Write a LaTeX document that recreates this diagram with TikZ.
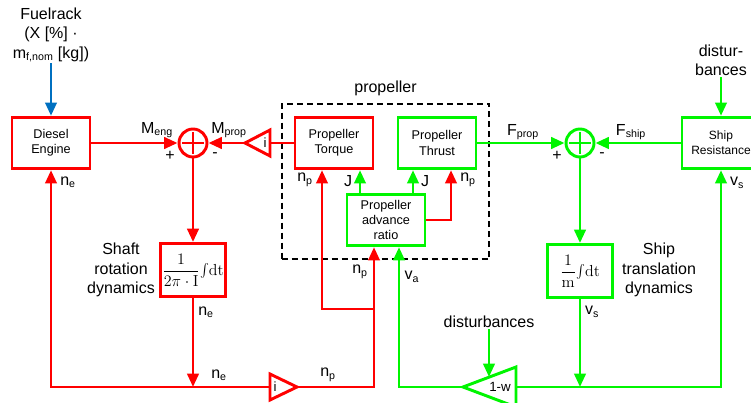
\documentclass[tikz,border=0pt]{standalone}
\usepackage[no-math]{fontspec}
\setmainfont{Liberation Sans}
\usetikzlibrary{arrows.meta}
\usetikzlibrary{positioning}
\usetikzlibrary{fit}

\definecolor{sigred}{RGB}{255,0,0}
\definecolor{siggreen}{RGB}{0,245,0}
\definecolor{sigblue}{RGB}{0,112,192}

\begin{document}
\begin{tikzpicture}[x=0.75pt, y=-0.75pt,
            line width=2.2pt,
            font=\fontsize{12}{14.5}\selectfont,
            >={Triangle[length=10pt,width=8.5pt]},
            block/.style = {draw,fill=white,align=center,inner sep=1pt,
                minimum width=58.5pt,minimum height=38.5pt,
                font=\fontsize{9.5}{11.3}\selectfont},
            intblock/.style = {block,minimum width=48.75pt,minimum height=39.75pt,
                font=\fontsize{11.5}{13}\selectfont},
            sumnode/.style = {draw,circle,minimum size=21pt,inner sep=0pt},
            lbl/.style = {inner sep=0pt,align=center},
            gainlbl/.style = {inner sep=0pt,font=\fontsize{10}{12}\selectfont}]
            \useasboundingbox (0,0) rectangle (751,403);
            \node[block, draw=sigred] (engine) at (51,143) {Diesel\\Engine};
            \node[sumnode, draw=sigred] (sumM) at (193,143) {};
            \node[block, draw=sigred] (torque) at (334,143) {Propeller\\Torque};
            \node[block, draw=siggreen] (thrust) at (437,143) {Propeller\\Thrust};
            \node[block, draw=siggreen] (ratio) at (386,220) {Propeller\\advance\\ratio};
            \node[sumnode, draw=siggreen] (sumF) at (580,143) {};
            \node[block, draw=siggreen, font=\fontsize{9}{11.3}\selectfont] (resist) at (721,143) {Ship\\Resistance};
            \node[intblock, draw=sigred] (shaftint) at (193,270)
                {$\displaystyle\frac{1}{2\pi\cdot\mathrm{I}}{\textstyle\int}\mathrm{dt}$};
            \node[intblock, draw=siggreen] (shipint) at (580,271)
                {$\displaystyle\frac{1}{\mathrm{m}}{\textstyle\int}\mathrm{dt}$};
            \node[draw=black, line width=1.5pt, dash pattern=on 4.5pt off 3pt,
                inner sep=9pt, fit=(torque)(thrust)(ratio)] (prop) {};
            \node[above=1pt] (proplbl) at (prop.north) {propeller};
            \draw[sigred] (sumM.center) ++(0,-11) -- ++(0,22)
                (sumM.center) ++(-11,0) -- ++(22,0);
            \draw[siggreen] (sumF.center) ++(0,-11) -- ++(0,22)
                (sumF.center) ++(-11,0) -- ++(22,0);
            % gains
            \coordinate (gearAtip) at (245,143);
            \coordinate (gearAbase) at (270,143);
            \draw[sigred] (gearAtip) -- (270,130) -- (270,156) -- cycle;
            \node[gainlbl] (gearAlbl) at (265,143) {i};
            \coordinate (gearBbase) at (270,387);
            \coordinate (gearBtip) at (297,387);
            \draw[sigred] (gearBtip) -- (270,374) -- (270,400) -- cycle;
            \node[gainlbl] (gearBlbl) at (275,387) {i};
            \coordinate (gearWtip) at (463,387);
            \coordinate (gearWbase) at (516,387);
            \coordinate (gearWedge) at (489,377);
            \draw[siggreen] (gearWtip) -- (516,367) -- (516,407) -- cycle;
            \node[gainlbl] (gearWlbl) at (500,387) {1-w};
            % inputs
            \node[lbl] (fuel) at (51,35) {Fuelrack\\(X [\%] ·\\m\textsubscript{f,nom} [kg])};
            \node[lbl] (disturbR) at (721,60) {distur-\\bances};
            \node[lbl] (disturbW) at (489,322) {disturbances};
            \coordinate (neJoin) at (193,387);
            \coordinate (vsJoin) at (580,387);
            \coordinate (npSplit) at (374,309);
            % red connectors
            \draw[->, sigblue] (fuel) -- (engine);
            \draw[->, sigred] (engine) -- (sumM);
            \draw[->, sigred] (gearAtip) -- (sumM);
            \draw[sigred] (torque) -- (gearAbase);
            \draw[->, sigred] (sumM) -- (shaftint);
            \draw[->, sigred] (shaftint) -- (neJoin);
            \draw[->, sigred] (gearBbase) -| (engine);
            \draw[->, sigred] (gearBtip) -| ([xshift=-9pt]ratio.south);
            \draw[->, sigred] (npSplit) -| ([xshift=-9pt]torque.south);
            \draw[->, sigred] (ratio.east) -| ([xshift=10.5pt]thrust.south);
            % green connectors
            \draw[->, siggreen] ([xshift=-19.5pt]ratio.north) -- ([xshift=19.5pt]torque.south);
            \draw[->, siggreen] ([xshift=20.25pt]ratio.north) -- ([xshift=-18pt]thrust.south);
            \draw[->, siggreen] (thrust) -- (sumF);
            \draw[->, siggreen] (resist) -- (sumF);
            \draw[->, siggreen] (disturbR) -- (resist);
            \draw[->, siggreen] (sumF) -- (shipint);
            \draw[->, siggreen] (shipint) -- (vsJoin);
            \draw[->, siggreen] (gearWbase) -| (resist);
            \draw[->, siggreen] (gearWtip) -| ([xshift=9.75pt]ratio.south);
            \draw[->, siggreen] (disturbW) -- (gearWedge);
            % labels
            \node[lbl] (mengl) at (157,130) {M\textsubscript{eng}};
            \node[lbl] (plusM) at (170,156) {+};
            \node[lbl] (mpropl) at (229,130) {M\textsubscript{prop}};
            \node[lbl] (minusM) at (215,155) {-};
            \node[lbl] (nel1) at (68,182) {n\textsubscript{e}};
            \node[lbl] (npl1) at (305,180) {n\textsubscript{p}};
            \node[lbl] (jl1) at (348,181) {J};
            \node[lbl] (jl2) at (425,181) {J};
            \node[lbl] (npl2) at (468,180) {n\textsubscript{p}};
            \node[lbl] (npl3) at (360,272) {n\textsubscript{p}};
            \node[lbl] (val) at (412,277) {v\textsubscript{a}};
            \node[lbl] (nel2) at (206,312) {n\textsubscript{e}};
            \node[lbl] (nel3) at (219,375) {n\textsubscript{e}};
            \node[lbl] (npl4) at (328,375) {n\textsubscript{p}};
            \node[lbl] (shaftlbl) at (121,270) {Shaft\\rotation\\dynamics};
            \node[lbl] (fpropl) at (523,132) {F\textsubscript{prop}};
            \node[lbl] (plusF) at (557,156) {+};
            \node[lbl] (minusF) at (602,155) {-};
            \node[lbl] (fshipl) at (631,132) {F\textsubscript{ship}};
            \node[lbl] (vsl1) at (737,183) {v\textsubscript{s}};
            \node[lbl] (vsl2) at (592,312) {v\textsubscript{s}};
            \node[lbl] (shiplbl) at (659,270) {Ship\\translation\\dynamics};
        \end{tikzpicture}
\end{document}
